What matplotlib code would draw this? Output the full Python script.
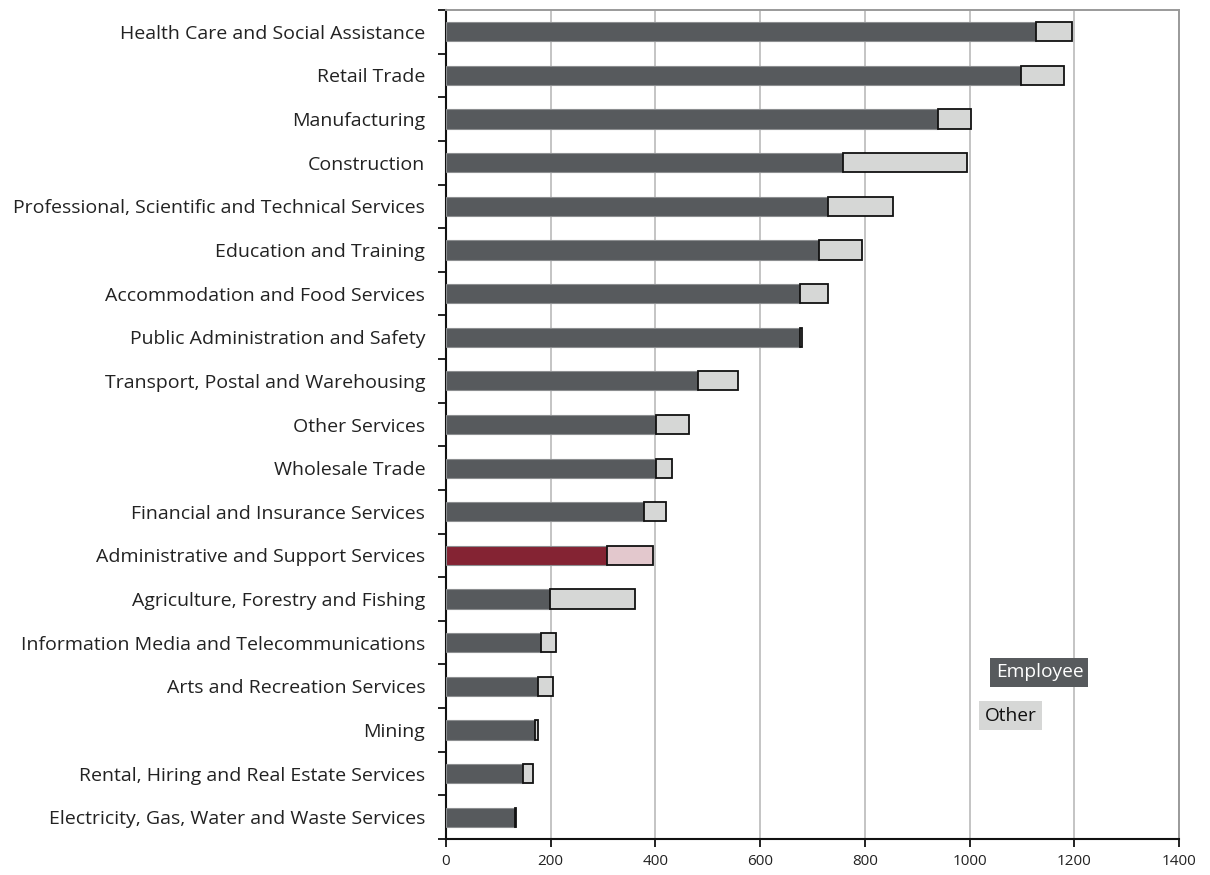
import matplotlib
matplotlib.use("Agg")
import matplotlib.pyplot as plt

plt.rcParams['font.family'] = ['Open Sans', 'DejaVu Sans']

industries = [
    "Health Care and Social Assistance",
    "Retail Trade",
    "Manufacturing",
    "Construction",
    "Professional, Scientific and Technical Services",
    "Education and Training",
    "Accommodation and Food Services",
    "Public Administration and Safety",
    "Transport, Postal and Warehousing",
    "Other Services",
    "Wholesale Trade",
    "Financial and Insurance Services",
    "Administrative and Support Services",
    "Agriculture, Forestry and Fishing",
    "Information Media and Telecommunications",
    "Arts and Recreation Services",
    "Mining",
    "Rental, Hiring and Real Estate Services",
    "Electricity, Gas, Water and Waste Services",
]
employee = [1126, 1099, 939, 758, 729, 713, 676, 676, 482, 401, 401, 379, 307, 198, 182, 175, 170, 147, 131]
other = [69, 81, 63, 238, 125, 82, 53, 4, 75, 63, 31, 41, 88, 163, 28, 29, 6, 20, 3]
highlight = "Administrative and Support Services"
x_ticks = [0, 200, 400, 600, 800, 1000, 1200, 1400]

EMP_COLOR = "#575a5d"
OTH_COLOR = "#d6d7d6"
HL_EMP = "#842333"
HL_OTH = "#e3c8cd"

fig = plt.figure(figsize=(12.10, 8.75), dpi=100)
ax = fig.add_axes([446 / 1210, 1 - 839 / 875, (1179 - 446) / 1210, (839 - 10) / 875])

pos = list(range(len(industries)))
emp_colors = [HL_EMP if n == highlight else EMP_COLOR for n in industries]
oth_colors = [HL_OTH if n == highlight else OTH_COLOR for n in industries]

h = 0.44
ax.barh(pos, employee, height=h, color=emp_colors, edgecolor="#8c8e90",
        linewidth=0.8, zorder=3)
ax.barh(pos, other, left=employee, height=h, color=oth_colors,
        edgecolor="#111111", linewidth=1.3, zorder=3)

ax.set_xlim(0, 1400)
ax.set_ylim(len(industries) - 0.5, -0.5)
ax.set_xticks(x_ticks)
ax.set_xticklabels([str(t) for t in x_ticks], fontsize=11, color="#222222")

ax.set_yticks(pos)
ax.set_yticklabels(industries, fontsize=14, color="#222222")
ax.tick_params(axis="y", which="major", length=0, pad=15)
ax.set_yticks([p - 0.5 for p in pos] + [len(pos) - 0.5], minor=True)
ax.tick_params(axis="y", which="minor", length=6, width=1.3, color="#111111", direction="out")
ax.tick_params(axis="x", length=6, width=1.3, color="#111111", direction="out", pad=5)

ax.grid(axis="x", color="#c4c4c4", linewidth=1.4, zorder=0)
ax.set_axisbelow(True)
for side in ("left", "bottom"):
    ax.spines[side].set_color("#111111")
    ax.spines[side].set_linewidth(1.5)
for side in ("top", "right"):
    ax.spines[side].set_color("#9a9a9a")
    ax.spines[side].set_linewidth(1.4)

ax.text(1133.5, 14.68, "Employee", fontsize=13.8, color="white", ha="center", va="center",
        bbox=dict(boxstyle="square,pad=0.27", facecolor=EMP_COLOR, edgecolor="none"), zorder=5)
ax.text(1078, 15.67, "Other", fontsize=13.8, color="#111111", ha="center", va="center",
        bbox=dict(boxstyle="square,pad=0.27", facecolor=OTH_COLOR, edgecolor="none"), zorder=5)

fig.savefig("out.png", dpi=100)
